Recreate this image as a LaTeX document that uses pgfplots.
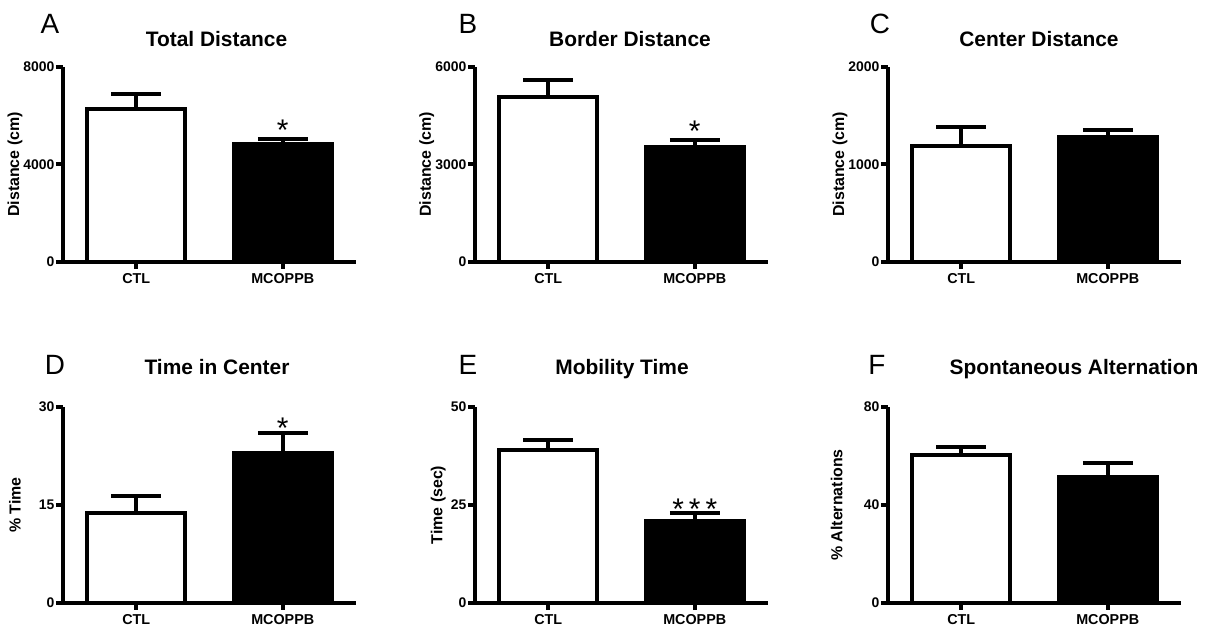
\documentclass[border=0pt]{standalone}
\usepackage{pgfplots}
\pgfplotsset{compat=1.18}
\usepackage{fontspec}
\setmainfont{Liberation Sans}

\pgfplotsset{
 panel/.style={
  scale only axis, width=146.5bp,
  axis lines*=left, axis line style={line width=2bp, -},
  xmin=0.5, xmax=2.5, ymin=0, enlargelimits=false,
  xtick={1,2}, xticklabels={CTL,MCOPPB},
  tick align=outside, major tick length=3.5bp,
  tick style={line width=2bp, black},
  y tick label style={font=\fontsize{7}{8}\selectfont\bfseries, inner sep=0.6bp},
  x tick label style={font=\fontsize{7.2}{8}\selectfont\bfseries, inner sep=2bp},
  /pgf/number format/assume math mode=true,
  /pgf/number format/1000 sep={},
  ylabel style={font=\fontsize{8}{9}\selectfont\bfseries, anchor=center},
  ybar, bar width=0.67, bar shift=0pt,
  clip=false,
 },
 ctl/.style={fill=white, draw=black, line width=1.9bp,
  error bars/.cd, y dir=plus, y explicit,
  error bar style={line width=1.9bp, black},
  error mark options={rotate=90, mark size=12.5bp, line width=1.9bp, black}},
 mco/.style={fill=black, draw=black, line width=1.9bp,
  error bars/.cd, y dir=plus, y explicit,
  error bar style={line width=1.9bp, black},
  error mark options={rotate=90, mark size=12.5bp, line width=1.9bp, black}},
}
\newcommand{\ttl}{\fontsize{10.5}{12}\selectfont\bfseries}
\newcommand{\lett}{\fontsize{14}{16}\selectfont}
\newcommand{\starfont}{\fontsize{15}{15}\selectfont}

\begin{document}
\begin{tikzpicture}
\path[use as bounding box] (0,0) rectangle (605.5bp,313.5bp);

% ---- A
\begin{axis}[panel, height=97.5bp, at={(31.5bp,182.5bp)}, anchor=south west,
  ymax=8000, ytick={0,4000,8000}, ylabel={Distance (cm)},
  ylabel style={at={(axis description cs:-0.164,0.5)}}]
\addplot[ctl] coordinates {(1,6277) +- (0,615)};
\addplot[mco] coordinates {(2,4841) +- (0,205)};
\node[font=\starfont, anchor=base] at (axis cs:2,5000) {*};
\end{axis}

% ---- B
\begin{axis}[panel, height=97.5bp, at={(237.5bp,182.5bp)}, anchor=south west,
  ymax=6000, ytick={0,3000,6000}, ylabel={Distance (cm)},
  ylabel style={at={(axis description cs:-0.165,0.5)}}]
\addplot[ctl] coordinates {(1,5077) +- (0,523)};
\addplot[mco] coordinates {(2,3538) +- (0,216)};
\node[font=\starfont, anchor=base] at (axis cs:2,3700) {*};
\end{axis}

% ---- C
\begin{axis}[panel, height=97.5bp, at={(444bp,182.5bp)}, anchor=south west,
  ymax=2000, ytick={0,1000,2000}, ylabel={Distance (cm)},
  ylabel style={at={(axis description cs:-0.164,0.5)}}]
\addplot[ctl] coordinates {(1,1190) +- (0,195)};
\addplot[mco] coordinates {(2,1282) +- (0,72)};
\end{axis}

% ---- D
\begin{axis}[panel, height=98bp, at={(31.5bp,12bp)}, anchor=south west,
  ymax=30, ytick={0,15,30}, ylabel={\% Time},
  ylabel style={at={(axis description cs:-0.164,0.5)}}]
\addplot[ctl] coordinates {(1,13.8) +- (0,2.6)};
\addplot[mco] coordinates {(2,22.96) +- (0,3.06)};
\node[font=\starfont, anchor=base] at (axis cs:2,25.2) {*};
\end{axis}

% ---- E
\begin{axis}[panel, height=98bp, at={(237.5bp,12bp)}, anchor=south west,
  ymax=50, ytick={0,25,50}, ylabel={Time (sec)},
  ylabel style={at={(axis description cs:-0.125,0.5)}}]
\addplot[ctl] coordinates {(1,39.0) +- (0,2.6)};
\addplot[mco] coordinates {(2,20.9) +- (0,2.1)};
\node[font=\starfont, anchor=base] at (axis cs:2,21.3) {*\,*\,*};
\end{axis}

% ---- F
\begin{axis}[panel, height=98bp, at={(444bp,12bp)}, anchor=south west,
  ymax=80, ytick={0,40,80}, ylabel={\% Alternations},
  ylabel style={at={(axis description cs:-0.175,0.5)}}]
\addplot[ctl] coordinates {(1,60.4) +- (0,3.3)};
\addplot[mco] coordinates {(2,51.4) +- (0,5.7)};
\end{axis}

% titles and letters
\node[font=\ttl, anchor=base] at (108.25bp,290bp) {Total Distance};
\node[font=\ttl, anchor=base] at (315bp,290bp) {Border Distance};
\node[font=\ttl, anchor=base] at (519.5bp,290bp) {Center Distance};
\node[font=\ttl, anchor=base] at (108.5bp,126bp) {Time in Center};
\node[font=\ttl, anchor=base] at (311bp,126bp) {Mobility Time};
\node[font=\ttl, anchor=base] at (537bp,126bp) {Spontaneous Alternation};

\node[font=\lett, anchor=base] at (25bp,296.5bp) {A};
\node[font=\lett, anchor=base] at (234bp,296.5bp) {B};
\node[font=\lett, anchor=base] at (440bp,296.5bp) {C};
\node[font=\lett, anchor=base] at (27.5bp,126bp) {D};
\node[font=\lett, anchor=base] at (234bp,126bp) {E};
\node[font=\lett, anchor=base] at (438.5bp,126bp) {F};
\end{tikzpicture}
\end{document}
